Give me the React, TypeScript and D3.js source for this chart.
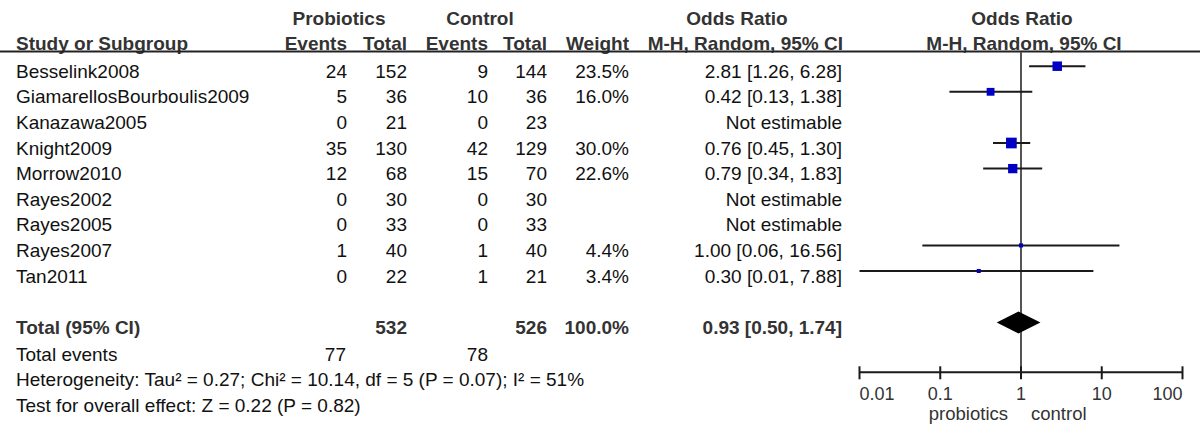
import React, { useEffect, useRef } from 'react';
import * as d3 from 'd3';

const studies = [
    'Besselink2008',
    'GiamarellosBourboulis2009',
    'Kanazawa2005',
    'Knight2009',
    'Morrow2010',
    'Rayes2002',
    'Rayes2005',
    'Rayes2007',
    'Tan2011',
];
const probEvents = [24, 5, 0, 35, 12, 0, 0, 1, 0];
const probTotal = [152, 36, 21, 130, 68, 30, 33, 40, 22];
const ctrlEvents = [9, 10, 0, 42, 15, 0, 0, 1, 1];
const ctrlTotal = [144, 36, 23, 129, 70, 30, 33, 40, 21];
const weights: (number | null)[] = [23.5, 16.0, null, 30.0, 22.6, null, null, 4.4, 3.4];
const oddsRatio: (number | null)[] = [2.81, 0.42, null, 0.76, 0.79, null, null, 1.0, 0.3];
const ciLow: (number | null)[] = [1.26, 0.13, null, 0.45, 0.34, null, null, 0.06, 0.01];
const ciHigh: (number | null)[] = [6.28, 1.38, null, 1.3, 1.83, null, null, 16.56, 7.88];

const pooled = { or: 0.93, lo: 0.5, hi: 1.74 };
const totals = { probTotal: 532, ctrlTotal: 526, weight: '100.0%', probEvents: 77, ctrlEvents: 78 };
const axisTicks = [0.01, 0.1, 1, 10, 100];
const footnotes = [
    'Heterogeneity: Tau² = 0.27; Chi² = 10.14, df = 5 (P = 0.07); I² = 51%',
    'Test for overall effect: Z = 0.22 (P = 0.82)',
];

const App: React.FC = () => {
    const chartRef = useRef<SVGSVGElement>(null);

    useEffect(() => {
        if (!chartRef.current) return;
        const svg = d3.select(chartRef.current);
        svg.selectAll('*').remove();

        const font = '"Liberation Sans", Arial, Helvetica, sans-serif';
        const dark = '#111';
        const head = '#333';

        // rows: baseline of text by row index
        const row = d3.scaleLinear().domain([0, 1]).range([77.7, 103.3]);
        // forest x scale (log)
        const x = d3.scaleLog().domain([0.01, 100]).range([859.5, 1182.5]);
        const boxSize = d3.scaleSqrt().domain([0, 30]).range([0, 10.7]);

        // column right edges
        const col = { pe: 347, pt: 407, ce: 488, ct: 547, w: 629, or: 842 };

        const text = (
            xPos: number, y: number, s: string,
            anchor = 'start', weight = 'normal', fill = dark, fs = 19
        ) => svg.append('text')
            .attr('x', xPos)
            .attr('y', y)
            .attr('text-anchor', anchor)
            .attr('font-family', font)
            .attr('font-size', fs)
            .attr('font-weight', weight)
            .attr('fill', fill)
            .text(s);

        // Header
        text(339, 25, 'Probiotics', 'middle', 'bold', head);
        text(480, 25, 'Control', 'middle', 'bold', head);
        text(737, 25, 'Odds Ratio', 'middle', 'bold', head);
        text(1022, 25, 'Odds Ratio', 'middle', 'bold', head);
        text(16, 50, 'Study or Subgroup', 'start', 'bold', head);
        text(col.pe, 50, 'Events', 'end', 'bold', head);
        text(col.pt, 50, 'Total', 'end', 'bold', head);
        text(col.ce, 50, 'Events', 'end', 'bold', head);
        text(col.ct, 50, 'Total', 'end', 'bold', head);
        text(col.w, 50, 'Weight', 'end', 'bold', head);
        text(843, 50, 'M-H, Random, 95% CI', 'end', 'bold', head);
        text(1024, 50, 'M-H, Random, 95% CI', 'middle', 'bold', head);

        svg.append('line')
            .attr('x1', 0).attr('x2', 1200)
            .attr('y1', 51.5).attr('y2', 51.5)
            .attr('stroke', '#222').attr('stroke-width', 2);

        // Study rows
        studies.forEach((s, i) => {
            const y = row(i);
            text(16, y, s);
            text(col.pe, y, String(probEvents[i]), 'end');
            text(col.pt, y, String(probTotal[i]), 'end');
            text(col.ce, y, String(ctrlEvents[i]), 'end');
            text(col.ct, y, String(ctrlTotal[i]), 'end');
            const w = weights[i];
            const o = oddsRatio[i];
            if (w !== null && o !== null) {
                text(col.w, y, `${w.toFixed(1)}%`, 'end');
                text(col.or, y, `${o.toFixed(2)} [${(ciLow[i] as number).toFixed(2)}, ${(ciHigh[i] as number).toFixed(2)}]`, 'end');
            } else {
                text(col.or, y, 'Not estimable', 'end');
            }
        });

        // Reference line at OR = 1
        svg.append('line')
            .attr('x1', x(1)).attr('x2', x(1))
            .attr('y1', 52).attr('y2', 372)
            .attr('stroke', '#555').attr('stroke-width', 2);

        // CI lines + boxes
        studies.forEach((_, i) => {
            const o = oddsRatio[i];
            const w = weights[i];
            if (o === null || w === null) return;
            const cy = row(i) - 11.5;
            svg.append('line')
                .attr('x1', x(ciLow[i] as number)).attr('x2', x(ciHigh[i] as number))
                .attr('y1', cy).attr('y2', cy)
                .attr('stroke', '#1a1a1a').attr('stroke-width', 2);
            const sz = Math.max(boxSize(w), 4);
            svg.append('rect')
                .attr('x', x(o) - sz / 2)
                .attr('y', cy - sz / 2)
                .attr('width', sz)
                .attr('height', sz)
                .attr('fill', '#0000c4');
        });

        // Total row
        const ty = row(10);
        text(16, ty, 'Total (95% CI)', 'start', 'bold', head);
        text(col.pt, ty, String(totals.probTotal), 'end', 'bold', head);
        text(col.ct, ty, String(totals.ctrlTotal), 'end', 'bold', head);
        text(col.w, ty, totals.weight, 'end', 'bold', head);
        text(col.or, ty, `${pooled.or.toFixed(2)} [${pooled.lo.toFixed(2)}, ${pooled.hi.toFixed(2)}]`, 'end', 'bold', head);

        const dy = ty - 11.3;
        svg.append('path')
            .attr('d', `M${x(pooled.lo)},${dy} L${x(pooled.or)},${dy - 11} L${x(pooled.hi)},${dy} L${x(pooled.or)},${dy + 11} Z`)
            .attr('fill', '#000');

        // Footer
        const ey = row(11.08);
        text(16, ey, 'Total events');
        text(col.pe - 1, ey, String(totals.probEvents), 'end');
        text(col.ce, ey, String(totals.ctrlEvents), 'end');
        footnotes.forEach((f, k) => text(16, row(12.06 + k), f));

        // Axis
        const ay = 372.3;
        svg.append('line')
            .attr('x1', x(0.01)).attr('x2', x(100))
            .attr('y1', ay).attr('y2', ay)
            .attr('stroke', '#1a1a1a').attr('stroke-width', 2);
        axisTicks.forEach((t, k) => {
            svg.append('line')
                .attr('x1', x(t)).attr('x2', x(t))
                .attr('y1', ay - 6).attr('y2', ay + 7)
                .attr('stroke', '#1a1a1a').attr('stroke-width', 2);
            const anchor = k === 0 ? 'start' : k === axisTicks.length - 1 ? 'end' : 'middle';
            text(x(t), 400, d3.format('~g')(t), anchor, 'normal', head, 18);
        });
        text(x(1) - 13, 420, 'probiotics', 'end', 'normal', head, 18.5);
        text(x(1) + 10, 420, 'control', 'start', 'normal', head, 18.5);
    }, []);

    return (
        <svg
            ref={chartRef}
            width={1200}
            height={439}
            style={{ position: 'absolute', left: 0, top: 0, background: '#fff' }}
        />
    );
};

export default App;
